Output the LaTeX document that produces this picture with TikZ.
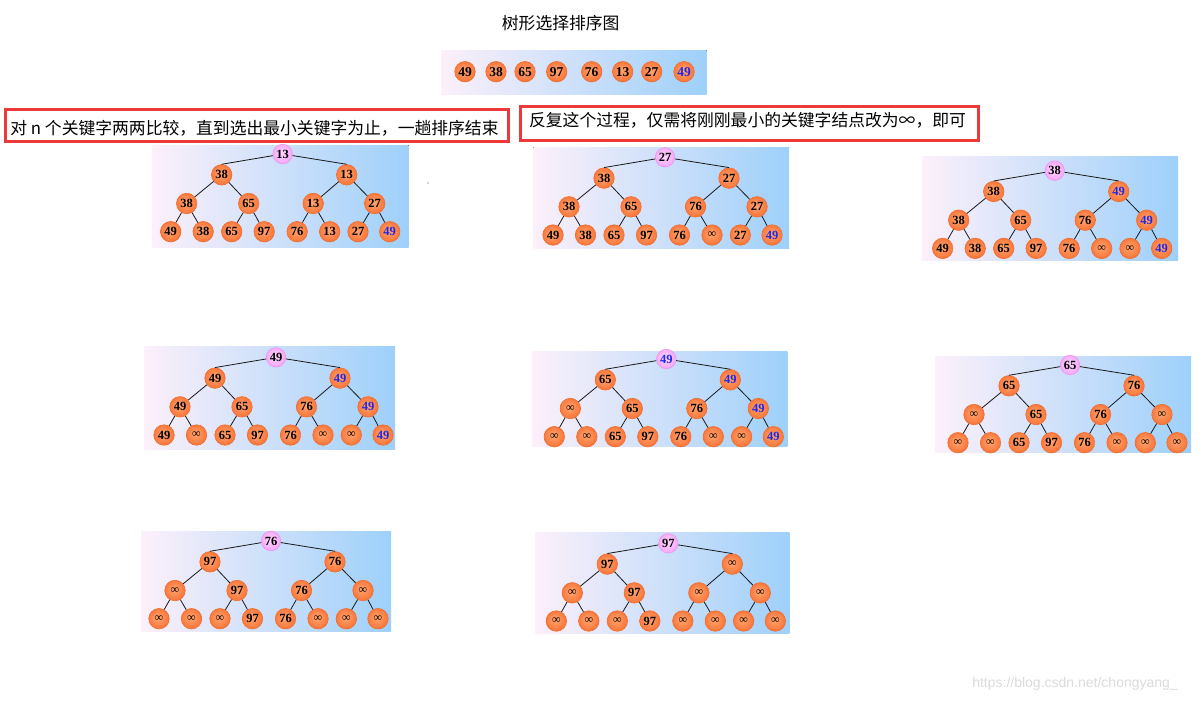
\documentclass[tikz,border=0pt]{standalone}
\usepackage{fontspec}
\setmainfont{Liberation Serif}
\newfontfamily\cjk{Noto Sans CJK SC}
\newfontfamily\wmfont{Liberation Sans}
\definecolor{ballIn}{RGB}{255,165,112}
\definecolor{ballMid}{RGB}{250,120,60}
\definecolor{ballOut}{RGB}{236,92,32}
\definecolor{ballEdge}{RGB}{240,110,50}
\definecolor{pinkIn}{RGB}{255,215,255}
\definecolor{pinkMid}{RGB}{245,170,245}
\definecolor{pinkOut}{RGB}{232,135,236}
\definecolor{pinkEdge}{RGB}{238,150,240}
\definecolor{numblue}{RGB}{30,40,230}
\definecolor{panelL}{RGB}{252,240,250}
\definecolor{panelR}{RGB}{158,208,250}
\definecolor{boxred}{RGB}{236,58,58}
\pgfdeclareradialshading{ballshade}{\pgfpoint{-3bp}{3bp}}{color(0bp)=(ballIn); color(24bp)=(ballMid); color(42bp)=(ballOut); color(50bp)=(ballOut)}
\pgfdeclareradialshading{pinkshade}{\pgfpoint{-3bp}{3bp}}{color(0bp)=(pinkIn); color(24bp)=(pinkMid); color(42bp)=(pinkOut); color(50bp)=(pinkOut)}
\tikzset{
  ball/.style={circle, minimum size=20.5pt, inner sep=0pt, draw=ballEdge, line width=0.6pt,
    shading=ballshade, font=\fontsize{12.5}{12.5}\selectfont\bfseries},
  nOr/.style={ball},
  nBl/.style={ball, text=numblue},
  nInf/.style={ball, font=\fontsize{12}{12}\selectfont},
  nPk/.style={ball, minimum size=19.5pt, shading=pinkshade, draw=pinkEdge},
  nPkB/.style={nPk, text=numblue},
  edge/.style={draw=black!90, line width=0.8pt},
  panel/.style={left color=panelL, right color=panelR},
  redbox/.style={draw=boxred, line width=2.6pt, inner sep=0pt},
  cjktext/.style={font=\cjk\fontsize{16.8}{18}\selectfont, inner sep=0pt, text=black},
}
\newcommand\seltree[4]{%
  \foreach \lab/\st [count=\i] in {#4} {
    \pgfmathsetmacro\dx{{0,-61,64,-96,-34,30.5,92,-112,-79.5,-51,-18.5,14.5,47,75.3,107}[\i-1]}
    \pgfmathsetmacro\dy{{0,20.8,20.8,49.5,49.5,49.5,49.5,77.7,77.7,77.7,77.7,77.7,77.7,77.7,77.7}[\i-1]}
    \node[\st] (#1-\i) at ({#2+\dx},{#3+\dy}) {\lab};
  }
  \draw[edge] (#1-1) -- (#1-2.north);
  \draw[edge] (#1-1) -- (#1-3.north);
  \foreach \i in {4,...,15} {
    \pgfmathtruncatemacro\p{\i/2}
    \draw[edge] (#1-\p) -- (#1-\i);
  }
}
\begin{document}
\begin{tikzpicture}[x=1pt,y=-1pt]
\useasboundingbox[fill=white] (0,0) rectangle (1201,702);

% title
\node[cjktext] (title) at (560.7,23.3) {树形选择排序图};

% top array
\fill[panel] (441,50) rectangle (706.7,94.3);
\foreach \x/\lab/\st [count=\k] in {465/49/nOr,496/38/nOr,525/65/nOr,556.7/97/nOr,591.7/76/nOr,622.7/13/nOr,651.7/27/nOr,684/49/nBl}
  \node[\st, font=\fontsize{13.5}{13.5}\selectfont\bfseries] (arr-\k) at (\x,71.7) {\lab};

% panels
\fill[panel] (152.7,145) rectangle (408.5,247);
\fill[panel] (533.3,147.3) rectangle (789,248.3);
\fill[panel] (922,156.7) rectangle (1178,260.7);
\fill[panel] (144,346) rectangle (395,449.3);
\fill[panel] (532,351) rectangle (787.3,446.7);
\fill[panel] (935,356.7) rectangle (1191,452.7);
\fill[panel] (141,531) rectangle (391,631.7);
\fill[panel] (535,532.3) rectangle (789.3,633.3);

\seltree{A}{282.7}{154}{13/nPk,38/nOr,13/nOr,38/nOr,65/nOr,13/nOr,27/nOr,49/nOr,38/nOr,65/nOr,97/nOr,76/nOr,13/nOr,27/nOr,49/nBl}
\seltree{B}{665}{157.3}{27/nPk,38/nOr,27/nOr,38/nOr,65/nOr,76/nOr,27/nOr,49/nOr,38/nOr,65/nOr,97/nOr,76/nOr,∞/nInf,27/nOr,49/nBl}
\seltree{C}{1054.7}{170.7}{38/nPk,38/nOr,49/nBl,38/nOr,65/nOr,76/nOr,49/nBl,49/nOr,38/nOr,65/nOr,97/nOr,76/nOr,∞/nInf,∞/nInf,49/nBl}
\seltree{D}{276}{357.3}{49/nPk,49/nOr,49/nBl,49/nOr,65/nOr,76/nOr,49/nBl,49/nOr,∞/nInf,65/nOr,97/nOr,76/nOr,∞/nInf,∞/nInf,49/nBl}
\seltree{E}{666.3}{359}{49/nPkB,65/nOr,49/nBl,∞/nInf,65/nOr,76/nOr,49/nBl,∞/nInf,∞/nInf,65/nOr,97/nOr,76/nOr,∞/nInf,∞/nInf,49/nBl}
\seltree{F}{1070}{365}{65/nPk,65/nOr,76/nOr,∞/nInf,65/nOr,76/nOr,∞/nInf,∞/nInf,∞/nInf,65/nOr,97/nOr,76/nOr,∞/nInf,∞/nInf,∞/nInf}
\seltree{G}{271}{541}{76/nPk,97/nOr,76/nOr,∞/nInf,97/nOr,76/nOr,∞/nInf,∞/nInf,∞/nInf,∞/nInf,97/nOr,76/nOr,∞/nInf,∞/nInf,∞/nInf}
\seltree{H}{668.3}{543.3}{97/nPk,97/nOr,∞/nInf,∞/nInf,97/nOr,∞/nInf,∞/nInf,∞/nInf,∞/nInf,∞/nInf,97/nOr,∞/nInf,∞/nInf,∞/nInf,∞/nInf}

% red boxes with texts
\node[redbox, minimum width=503.5pt, minimum height=31.8pt] (box1) at (257,125.5) {};
\node[cjktext] (text1) at (254.5,128.7) {对 n 个关键字两两比较，直到选出最小关键字为止，一趟排序结束};
\node[redbox, minimum width=458.4pt, minimum height=34.1pt] (box2) at (749.5,123.35) {};
\node[cjktext] (text2) at (747.5,120.2) {反复这个过程，仅需将刚刚最小的关键字结点改为∞，即可};

% stray dot
\fill[black!70] (428,183) circle (0.7);

% watermark
\node[font=\wmfont\fontsize{14}{14}\selectfont, text=black!14, inner sep=0pt] (wm) at (1075,684) {https://blog.csdn.net/chongyang\_};
\end{tikzpicture}
\end{document}
